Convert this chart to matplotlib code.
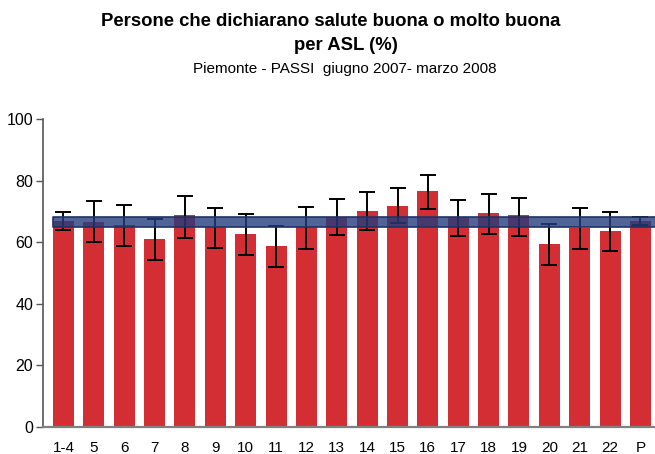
import matplotlib
matplotlib.use("Agg")
import matplotlib.pyplot as plt
import numpy as np

plt.rcParams['font.family'] = ['Liberation Sans', 'DejaVu Sans']

categories = ["1-4", "5", "6", "7", "8", "9", "10", "11", "12", "13",
              "14", "15", "16", "17", "18", "19", "20", "21", "22", "P"]
values = [67.0, 66.6, 65.6, 61.0, 68.8, 64.8, 62.7, 58.8, 64.8, 68.3,
          70.1, 71.8, 76.6, 68.3, 69.5, 68.8, 59.4, 64.6, 63.6, 66.8]
ci_low = [63.9, 60.0, 58.7, 54.3, 61.5, 58.2, 55.9, 52.0, 57.9, 62.3,
          63.9, 66.2, 70.7, 61.9, 62.7, 61.9, 52.7, 57.9, 57.1, 65.5]
ci_high = [69.9, 73.5, 72.0, 67.4, 75.1, 71.2, 69.2, 65.2, 71.5, 73.9,
           76.3, 77.5, 81.9, 73.8, 75.5, 74.4, 66.0, 71.2, 69.9, 68.1]
band_low = 64.8
band_high = 68.3
yticks = [0, 20, 40, 60, 80, 100]

W, H = 655, 454
fig = plt.figure(figsize=(W / 100, H / 100), dpi=100)
ax_left, ax_right = 43, 655
ax_bottom, ax_top = 427, 119
ax = fig.add_axes([ax_left / W, (H - ax_bottom) / H,
                   (ax_right - ax_left) / W, (ax_bottom - ax_top) / H])

x = np.arange(len(categories))
vals = np.array(values)
lo = vals - np.array(ci_low)
hi = np.array(ci_high) - vals

ax.bar(x, vals, width=0.69, color="#D42E35", zorder=2)
ax.errorbar(x, vals, yerr=[lo, hi], fmt="none", ecolor="black",
            elinewidth=1.4, capsize=6, capthick=1.4, zorder=3)
ax.fill_between([-0.345, 19.6], band_low, band_high,
                facecolor=(0.14, 0.24, 0.49, 0.8),
                edgecolor="#1E3364", linewidth=1.2, zorder=4)

ax.set_xlim(-0.675, 19.48)
ax.set_ylim(0, 100)
ax.set_yticks(yticks)
ax.set_yticklabels([str(t) for t in yticks], fontsize=11.5)
ax.set_xticks(x)
ax.set_xticklabels(categories, fontsize=11)
ax.tick_params(axis="x", length=0, pad=10)
ax.tick_params(axis="y", length=5, width=1, color="#555555", pad=2, direction="out")

for s in ["top", "right"]:
    ax.spines[s].set_visible(False)
ax.spines["left"].set_color("#555555")
ax.spines["left"].set_linewidth(1.2)
ax.spines["bottom"].set_color("#808080")
ax.spines["bottom"].set_linewidth(1.6)
ax.spines["bottom"].set_zorder(5)

fig.text(331 / W, 1 - 21 / H, "Persone che dichiarano salute buona o molto buona",
         ha="center", va="center", fontsize=13.3, fontweight="bold")
fig.text(346 / W, 1 - 46 / H, "per ASL (%)",
         ha="center", va="center", fontsize=13.3, fontweight="bold")
fig.text(345 / W, 1 - 69 / H, "Piemonte - PASSI  giugno 2007- marzo 2008",
         ha="center", va="center", fontsize=11)

fig.savefig("out.png", dpi=100)
